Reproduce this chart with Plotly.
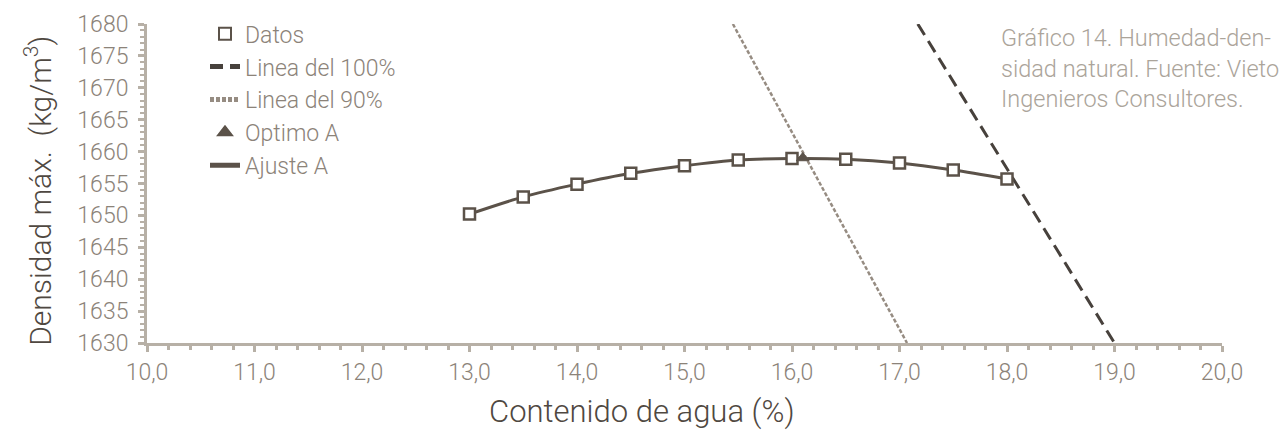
import plotly.graph_objects as go

# Data
agua = [13.0, 13.5, 14.0, 14.5, 15.0, 15.5, 16.0, 16.5, 17.0, 17.5, 18.0]
densidad = [1650.2, 1652.9, 1654.9, 1656.6, 1657.8, 1658.7, 1658.9, 1658.8, 1658.2, 1657.1, 1655.7]

x_100 = [17.17, 19.0]
y_100 = [1680.0, 1630.0]

x_90 = [15.45, 17.07]
y_90 = [1680.0, 1630.0]

x_opt = [16.1]
y_opt = [1659.0]

x_ticks = [10, 11, 12, 13, 14, 15, 16, 17, 18, 19, 20]
y_ticks = [1630, 1635, 1640, 1645, 1650, 1655, 1660, 1665, 1670, 1675, 1680]

FONT = "Roboto"
C_DATA = "#5b5249"
C_AXIS = "#b7b0a6"
C_TICK = "#8c8379"
C_TITLE = "#4f4841"
C_100 = "#47413c"
C_90 = "#968c82"
C_NOTE = "#aba49a"

# plot area in page pixels
L, R, T, B = 147, 1222, 18, 343
PW, PH = R - L, B - T


def px_x(p):
    return (p - L) / PW


def px_y(p):
    return 1 - (p - T) / PH


fig = go.Figure()

fig.add_trace(go.Scatter(
    x=agua, y=densidad, mode="lines", name="Ajuste A",
    line=dict(color=C_DATA, width=3, shape="spline", smoothing=0.8),
    legendrank=5,
))
fig.add_trace(go.Scatter(
    x=x_100, y=y_100, mode="lines", name="Linea del 100%",
    line=dict(color=C_100, width=3, dash="13px,7px"),
    legendrank=2,
))
fig.add_trace(go.Scatter(
    x=x_90, y=y_90, mode="lines", name="Linea del 90%",
    line=dict(color=C_90, width=2.5, dash="4px,2px"),
    legendrank=3,
))
fig.add_trace(go.Scatter(
    x=agua, y=densidad, mode="markers", name="Datos",
    marker=dict(symbol="square", size=11, color="white",
                line=dict(color=C_DATA, width=2.5)),
    legendrank=1,
))
fig.add_trace(go.Scatter(
    x=x_opt, y=y_opt, mode="markers", name="Optimo A",
    marker=dict(symbol="triangle-up", size=11, color=C_DATA,
                line=dict(color=C_DATA, width=1)),
    legendrank=4,
))

axis_common = dict(
    showgrid=False, zeroline=False,
    showline=True, linecolor=C_AXIS, linewidth=3,
    ticks="outside", tickcolor=C_AXIS, tickwidth=2.5,
    tickfont=dict(family=FONT, size=23, color=C_TICK, weight=300),
)

fig.update_xaxes(
    range=[10, 20], tickvals=x_ticks, tickformat=".1f", ticklen=6,
    minor=dict(dtick=0.2, ticklen=4, tickcolor=C_AXIS, tickwidth=2.5, ticks="outside"),
    **axis_common,
)
fig.update_yaxes(
    range=[1630, 1680], tickvals=y_ticks, tickformat="d", ticklen=6,
    ticklabelstandoff=5,
    minor=dict(dtick=1, ticklen=4, tickcolor=C_AXIS, tickwidth=2, ticks="outside"),
    **axis_common,
)

fig.add_annotation(
    text="Densidad máx.  (kg/m<sup>3</sup>)", xref="paper", yref="paper",
    x=px_x(39), y=px_y(188), xanchor="center", yanchor="middle", textangle=-90,
    showarrow=False, font=dict(family=FONT, size=30, color=C_TITLE, weight=300),
)

fig.add_annotation(
    text="Contenido de agua (%)", xref="paper", yref="paper",
    x=px_x(642), y=px_y(413), xanchor="center", yanchor="middle",
    showarrow=False, font=dict(family=FONT, size=31, color=C_TITLE, weight=300),
)

fig.add_annotation(
    text="Gráfico 14. Humedad-den-<br>sidad natural. Fuente: Vieto<br>Ingenieros Consultores.",
    xref="paper", yref="paper", x=px_x(999), y=px_y(16),
    xanchor="left", yanchor="top", align="left", showarrow=False,
    font=dict(family=FONT, size=23.5, color=C_NOTE, weight=300),
)

fig.update_layout(
    width=1284, height=436,
    margin=dict(l=L, r=1284 - R, t=T, b=436 - B),
    paper_bgcolor="white", plot_bgcolor="white",
    separators=",.",
    showlegend=True,
    legend=dict(
        x=px_x(205), y=px_y(6), xanchor="left", yanchor="top",
        bgcolor="rgba(0,0,0,0)", borderwidth=0,
        font=dict(family=FONT, size=23, color=C_TICK, weight=300),
        itemsizing="constant", tracegroupgap=0,
    ),
)

fig.write_html(
    "out.html",
    config={"displayModeBar": False},
    post_script="document.body.style.margin='0';document.body.style.overflow='hidden';",
)
